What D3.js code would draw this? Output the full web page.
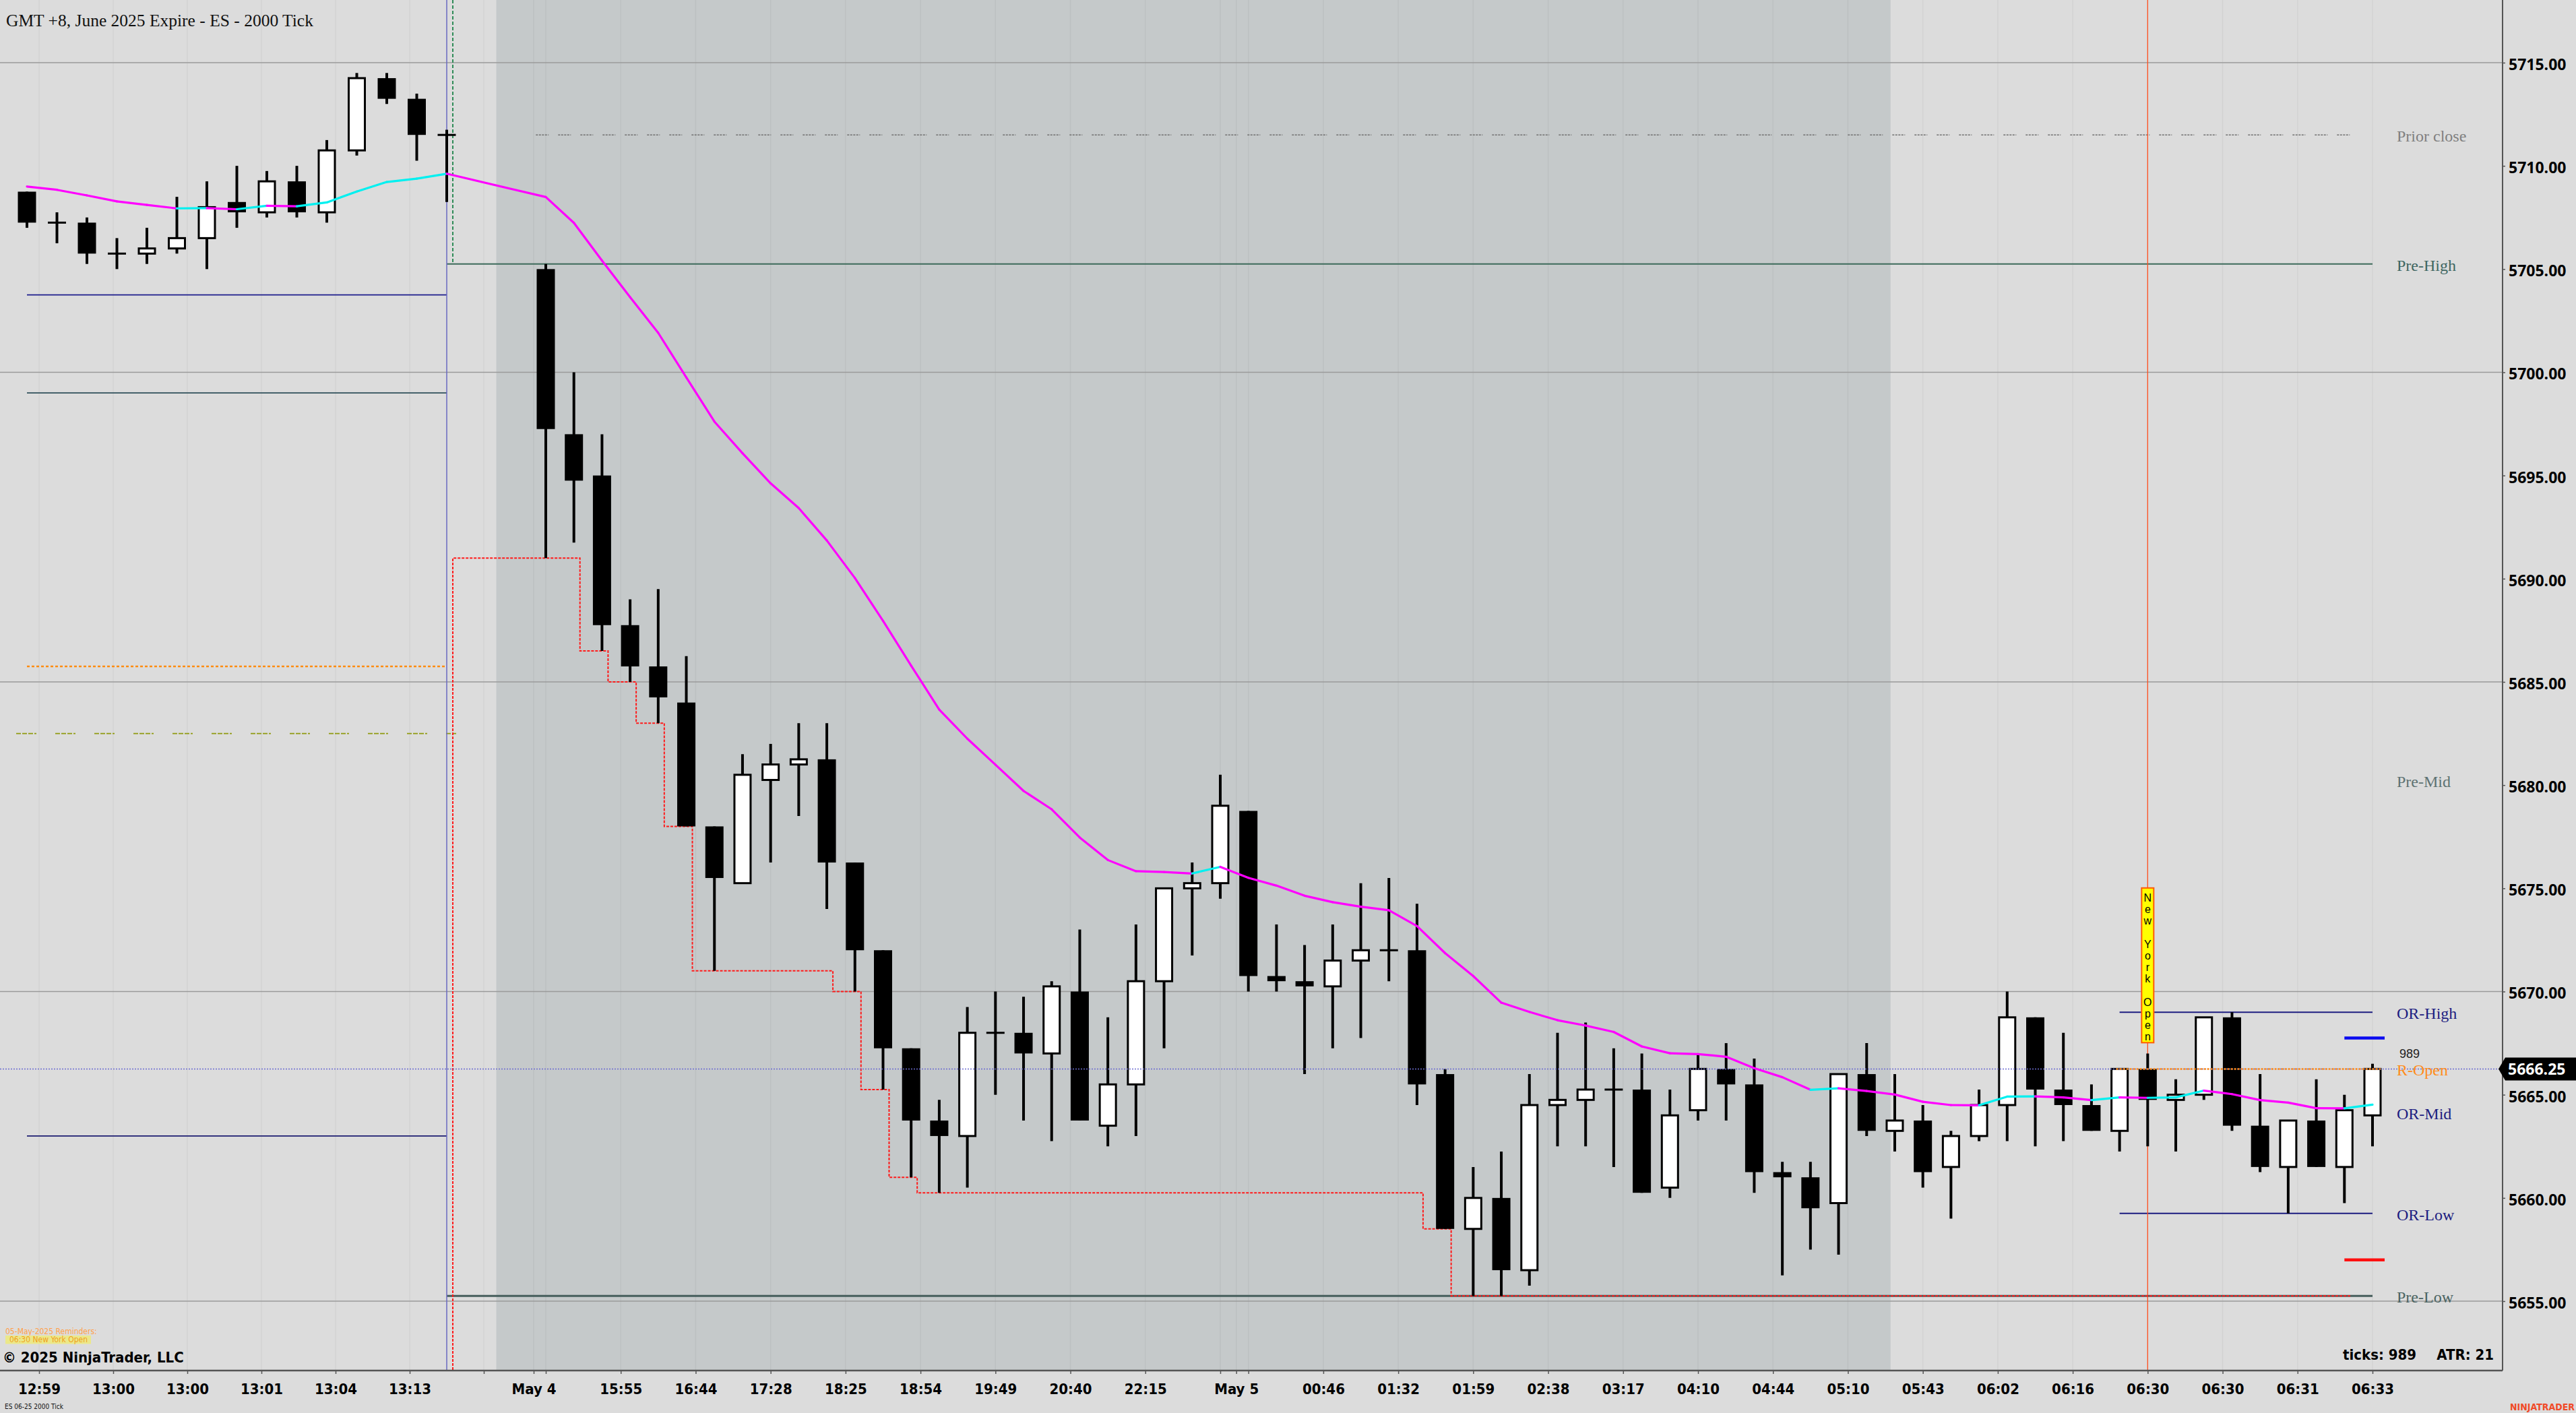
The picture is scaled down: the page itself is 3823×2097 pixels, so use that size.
<!DOCTYPE html>
<html>
<head>
<meta charset="utf-8">
<title>GMT +8, June 2025 Expire - ES - 2000 Tick</title>
<script src="https://d3js.org/d3.v7.min.js"></script>
<style>
  body { margin: 0; background: #dcdcdc; overflow: hidden; }
  svg { display: block; }
</style>
</head>
<body>
<div id="chart"></div>
<script>
// 2000 tick bars, oldest first. first 15 = prior session, then the May 4 / May 5 session
const opens = [
  5708.75, 5707.25, 5707.25, 5705.75, 5705.75, 5706.0, 5706.5, 5708.25, 5707.75, 5709.25, 5707.75, 5710.75, 5714.25, 5713.25, 5711.5,
  5705.0, 5697.0, 5695.0, 5687.75, 5685.75, 5684.0, 5678.0, 5675.25, 5680.25, 5681.0, 5681.25, 5676.25, 5672.0, 5667.25, 5663.75,
  5663.0, 5668.0, 5668.0, 5667.0, 5670.0, 5663.5, 5665.5, 5670.5, 5675.0, 5675.25, 5678.75, 5670.75, 5670.5, 5670.25, 5671.5,
  5672.0, 5672.0, 5666.0, 5658.5, 5660.0, 5656.5, 5664.5, 5664.75, 5665.25, 5665.25, 5660.5, 5664.25, 5666.25, 5665.5, 5661.25,
  5661.0, 5659.75, 5666.0, 5663.25, 5663.75, 5661.5, 5663.0, 5664.5, 5668.75, 5665.25, 5664.5, 5663.25, 5666.25, 5664.75, 5665.0,
  5668.75, 5663.5, 5661.5, 5663.75, 5661.5, 5664.0]
const highs = [
  5708.75, 5707.75, 5707.5, 5706.5, 5707.0, 5708.5, 5709.25, 5710.0, 5709.75, 5710.0, 5711.25, 5714.5, 5714.5, 5713.5, 5711.75,
  5705.25, 5700.0, 5697.0, 5689.0, 5689.5, 5686.25, 5678.0, 5681.5, 5682.0, 5683.0, 5683.0, 5676.25, 5672.0, 5667.25, 5664.75,
  5669.25, 5670.0, 5669.75, 5670.5, 5673.0, 5668.75, 5673.25, 5675.0, 5676.25, 5680.5, 5678.75, 5673.25, 5672.25, 5673.25, 5675.25,
  5675.5, 5674.25, 5666.25, 5661.5, 5662.25, 5666.0, 5668.0, 5668.5, 5667.25, 5667.0, 5665.25, 5667.0, 5667.5, 5666.75, 5661.75,
  5661.75, 5666.0, 5667.5, 5666.0, 5664.5, 5663.25, 5665.25, 5670.0, 5668.75, 5668.0, 5665.5, 5666.25, 5667.0, 5665.75, 5668.75,
  5669.0, 5666.0, 5663.75, 5665.75, 5665.0, 5666.5]
const lows = [
  5707.0, 5706.25, 5705.25, 5705.0, 5705.25, 5705.75, 5705.0, 5707.0, 5707.5, 5707.5, 5707.25, 5710.5, 5713.0, 5710.25, 5708.25,
  5691.0, 5691.75, 5686.5, 5685.0, 5683.0, 5678.0, 5671.0, 5675.25, 5676.25, 5678.5, 5674.0, 5670.0, 5665.25, 5661.0, 5660.25,
  5660.5, 5665.0, 5663.75, 5662.75, 5663.75, 5662.5, 5663.0, 5667.25, 5671.75, 5674.5, 5670.0, 5670.0, 5666.0, 5667.25, 5667.75,
  5670.5, 5664.5, 5658.5, 5655.25, 5655.25, 5655.75, 5662.5, 5662.5, 5661.5, 5660.25, 5660.0, 5663.75, 5663.75, 5660.25, 5656.25,
  5657.5, 5657.25, 5663.0, 5662.25, 5660.5, 5659.0, 5662.75, 5662.75, 5662.5, 5662.75, 5663.25, 5662.25, 5662.5, 5662.25, 5664.75,
  5663.25, 5661.25, 5659.25, 5661.5, 5659.75, 5662.5]
const closes = [
  5707.25, 5707.25, 5705.75, 5705.75, 5706.0, 5706.5, 5708.0, 5707.75, 5709.25, 5707.75, 5710.75, 5714.25, 5713.25, 5711.5, 5711.5,
  5697.25, 5694.75, 5687.75, 5685.75, 5684.25, 5678.0, 5675.5, 5680.5, 5681.0, 5681.25, 5676.25, 5672.0, 5667.25, 5663.75, 5663.0,
  5668.0, 5668.0, 5667.0, 5670.25, 5663.75, 5665.5, 5670.5, 5675.0, 5675.25, 5679.0, 5670.75, 5670.5, 5670.25, 5671.5, 5672.0,
  5672.0, 5665.5, 5658.5, 5660.0, 5656.5, 5664.5, 5664.75, 5665.25, 5665.25, 5660.25, 5664.0, 5666.25, 5665.5, 5661.25, 5661.0,
  5659.5, 5666.0, 5663.25, 5663.75, 5661.25, 5663.0, 5664.5, 5668.75, 5665.25, 5664.5, 5663.25, 5666.25, 5664.75, 5665.0, 5668.75,
  5663.5, 5661.5, 5663.75, 5661.5, 5664.25, 5666.25]

// moving average plot (magenta falling / cyan rising)
const emaValues = [
  5709.0, 5708.84, 5708.57, 5708.28, 5708.11, 5707.94, 5707.95, 5707.9, 5708.07, 5708.04, 5708.23, 5708.76, 5709.22, 5709.38, 5709.62,
  5708.49, 5707.24, 5705.41, 5703.64, 5701.91, 5699.75, 5697.61, 5696.08, 5694.62, 5693.42, 5691.85, 5690.03, 5687.96, 5685.79, 5683.66,
  5682.25, 5680.99, 5679.72, 5678.83, 5677.46, 5676.37, 5675.83, 5675.79, 5675.72, 5676.04, 5675.51, 5675.13, 5674.64, 5674.33, 5674.11,
  5673.94, 5673.17, 5671.86, 5670.75, 5669.46, 5669.01, 5668.61, 5668.35, 5668.04, 5667.34, 5667.01, 5666.97, 5666.84, 5666.29, 5665.85,
  5665.24, 5665.31, 5665.18, 5665.01, 5664.66, 5664.5, 5664.49, 5664.91, 5664.92, 5664.87, 5664.74, 5664.87, 5664.85, 5664.87, 5665.2,
  5665.03, 5664.74, 5664.62, 5664.35, 5664.34, 5664.52]

const tickLabelsPrior = ["12:59", "13:00", "13:00", "13:01", "13:04", "13:13", ""]
const tickLabelsMay4 = ["", "15:55", "16:44", "17:28", "18:25", "18:54", "19:49", "20:40", "22:15", ""]
const tickLabelsMay5 = ["", "00:46", "01:32", "01:59", "02:38", "03:17", "04:10", "04:44", "05:10", "05:43", "06:02", "06:16", "06:30", "06:30", "06:31", "06:33"]
const dateLabels = ["May 4", "May 5"]

const levelNames = ["Prior close", "Pre-High", "Pre-Mid", "OR-High", "R-Open", "OR-Mid", "OR-Low", "Pre-Low"]
const levelPrices = [5711.5, 5705.25, 5680.25, 5669.0, 5666.25, 5664.125, 5659.25, 5655.25]
// lines left over on the prior session
const priorLevelPrices = [5703.75, 5699.0, 5685.75, 5682.5, 5663.0]

const lastPrice = 5666.25
const ticksLeft = 989
const atrValue = 21
const projHigh = 5667.75
const projLow = 5657.0

// ---------------------------------------------------------------
const W = 3823, H = 2097
const plotW = 3714, plotH = 2034
const priorLast = 14, sessionStart = 15, may5Start = 40, nyOpenBar = 72
const lastBar = opens.length - 1

const condFont = "'DejaVu Sans Condensed', 'Liberation Sans Narrow', 'Roboto Condensed', 'DejaVu Sans', sans-serif"
const serifFont = "'Liberation Serif', 'DejaVu Serif', serif"

const x = d3.scaleLinear()
    .domain([0, priorLast, sessionStart, lastBar])
    .range([40, 663, 810, 3521])
const y = d3.scaleLinear().domain([5655, 5715]).range([1931, 93])

const svg = d3.select("#chart").append("svg")
    .attr("width", W).attr("height", H)

svg.append("rect").attr("width", W).attr("height", H).attr("fill", "#dcdcdc")
svg.append("defs").append("clipPath").attr("id", "clip")
    .append("rect").attr("width", plotW).attr("height", plotH)

const plot = svg.append("g").attr("clip-path", "url(#clip)")

// overnight session shading
plot.append("rect")
    .attr("x", x(priorLast + 0.5)).attr("y", 0)
    .attr("width", x(62.85) - x(priorLast + 0.5)).attr("height", plotH)
    .attr("fill", "#c5c9ca")

// x ticks: fixed spacing inside each day
const ticks = tickLabelsPrior.map((t, k) => ({ idx: x.invert(x(0) + 18 + 110 * k), label: t }))
;[[sessionStart, tickLabelsMay4], [may5Start, tickLabelsMay5]].forEach(([s, labels], n) => {
    ticks.push({ idx: x.invert(x(s) - 18), label: dateLabels[n] })
    labels.forEach((t, k) => ticks.push({ idx: s + k * 8 / 3, label: t }))
})

plot.selectAll(".vgrid").data(ticks).join("line")
    .attr("x1", d => x(d.idx)).attr("x2", d => x(d.idx))
    .attr("y1", 0).attr("y2", plotH)
    .attr("stroke", "#000").attr("stroke-opacity", 0.045).attr("stroke-width", 1.5)

plot.selectAll(".hgrid").data(d3.range(5655, 5716, 15)).join("line")
    .attr("x1", 0).attr("x2", plotW)
    .attr("y1", d => y(d)).attr("y2", d => y(d))
    .attr("stroke", "#9a9a9a").attr("stroke-width", 1.3)

// prior session levels
const priorStyles = [
    { c: "#1c1c8c", w: 1.8, dash: null },
    { c: "#2f4f5a", w: 1.8, dash: null },
    { c: "#ff8c10", w: 2.5, dash: "4,3" },
    { c: "#8f9a10", w: 1.8, dash: "7,2,7,2,7,2,3,28" },
    { c: "#1c1c70", w: 1.8, dash: null }
]
plot.selectAll(".plevel").data(priorLevelPrices).join("line")
    .attr("x1", (d, i) => i === 3 ? x(0) - 16 : x(0))
    .attr("x2", (d, i) => i === 3 ? x(priorLast) + 14 : x(priorLast))
    .attr("y1", d => y(d)).attr("y2", d => y(d))
    .attr("stroke", (d, i) => priorStyles[i].c)
    .attr("stroke-width", (d, i) => priorStyles[i].w)
    .attr("stroke-dasharray", (d, i) => priorStyles[i].dash)

// session levels
const lv = name => levelPrices[levelNames.indexOf(name)]
plot.append("line")
    .attr("x1", x(priorLast + 0.9)).attr("x2", x(lastBar - 0.7))
    .attr("y1", y(lv("Prior close"))).attr("y2", y(lv("Prior close")))
    .attr("stroke", "#707070").attr("stroke-width", 1.5)
    .attr("stroke-dasharray", "3,1.5,3,1.5,3,1.5,3,1.5,1,14")
plot.append("line")
    .attr("x1", x(priorLast)).attr("x2", x(lastBar))
    .attr("y1", y(lv("Pre-High"))).attr("y2", y(lv("Pre-High")))
    .attr("stroke", "#3c6a5a").attr("stroke-width", 2)
plot.append("line")
    .attr("x1", x(priorLast)).attr("x2", x(lastBar))
    .attr("y1", y(lv("Pre-Low"))).attr("y2", y(lv("Pre-Low")))
    .attr("stroke", "#465e5c").attr("stroke-width", 3)
;["OR-High", "OR-Low"].forEach(n => {
    plot.append("line")
        .attr("x1", x(nyOpenBar - 1)).attr("x2", x(lastBar))
        .attr("y1", y(lv(n))).attr("y2", y(lv(n)))
        .attr("stroke", "#1c1c80").attr("stroke-width", 2)
})

// verticals: session break, pre-high marker, New York open
plot.append("line")
    .attr("x1", x(priorLast)).attr("x2", x(priorLast)).attr("y1", 0).attr("y2", plotH)
    .attr("stroke", "#6a6ac0").attr("stroke-width", 1.5)
plot.append("line")
    .attr("x1", x(priorLast) + 9).attr("x2", x(priorLast) + 9).attr("y1", 0).attr("y2", y(lv("Pre-High")))
    .attr("stroke", "#2e8b57").attr("stroke-width", 2).attr("stroke-dasharray", "5,3")
plot.append("line")
    .attr("x1", x(nyOpenBar)).attr("x2", x(nyOpenBar)).attr("y1", 0).attr("y2", plotH)
    .attr("stroke", "#ff5020").attr("stroke-width", 1.3)

// running session low, drawn one bar late
const stepPts = [{ px: x(priorLast) + 9, py: plotH + 5 }]
let runLow = Infinity
for (let i = sessionStart; i <= lastBar; i++) {
    runLow = Math.min(runLow, lows[i])
    stepPts.push({ px: x(i - 1) + 9, py: y(runLow) })
}
plot.append("path")
    .attr("d", d3.line().x(d => d.px).y(d => d.py).curve(d3.curveStepAfter)(stepPts))
    .attr("fill", "none").attr("stroke", "#ff1a1a").attr("stroke-width", 2)
    .attr("stroke-dasharray", "4,2")

// candles
const bars = opens.map((o, i) => ({ i, o, h: highs[i], l: lows[i], c: closes[i] }))
const candle = plot.append("g").selectAll("g").data(bars).join("g")
candle.append("line")
    .attr("x1", d => x(d.i)).attr("x2", d => x(d.i))
    .attr("y1", d => y(d.h)).attr("y2", d => y(d.l))
    .attr("stroke", "#000").attr("stroke-width", 4)
candle.filter(d => d.c > d.o).append("rect")
    .attr("x", d => x(d.i) - 12).attr("width", 24)
    .attr("y", d => y(d.c)).attr("height", d => y(d.o) - y(d.c))
    .attr("fill", "#fff").attr("stroke", "#000").attr("stroke-width", 3)
candle.filter(d => d.c < d.o).append("rect")
    .attr("x", d => x(d.i) - 13.5).attr("width", 27)
    .attr("y", d => y(d.o)).attr("height", d => y(d.c) - y(d.o))
    .attr("fill", "#000")
candle.filter(d => d.c === d.o).append("line")
    .attr("x1", d => x(d.i) - 13.5).attr("x2", d => x(d.i) + 13.5)
    .attr("y1", d => y(d.o)).attr("y2", d => y(d.o))
    .attr("stroke", "#000").attr("stroke-width", 3)

// last price and R-Open dotted lines
plot.append("line")
    .attr("x1", 0).attr("x2", plotW).attr("y1", y(lastPrice)).attr("y2", y(lastPrice))
    .attr("stroke", "#6b6bd0").attr("stroke-width", 1.5).attr("stroke-dasharray", "2,2")
plot.append("line")
    .attr("x1", x(nyOpenBar - 1) - 5).attr("x2", x(lastBar) + 12)
    .attr("y1", y(lv("R-Open"))).attr("y2", y(lv("R-Open")))
    .attr("stroke", "#ff8c1a").attr("stroke-width", 2.5).attr("stroke-dasharray", "3,2")

// moving average, coloured by direction
const emaSegs = d3.pairs(emaValues.map((v, i) => ({ i, v })))
plot.append("g").selectAll("line").data(emaSegs).join("line")
    .attr("x1", d => x(d[0].i)).attr("y1", d => y(d[0].v))
    .attr("x2", d => x(d[1].i)).attr("y2", d => y(d[1].v))
    .attr("stroke", d => d[1].v > d[0].v ? "#00f0f0" : "#ff00ff")
    .attr("stroke-width", 3.2).attr("stroke-linecap", "round")

// projection markers
;[[projHigh, "#0a0af0"], [projLow, "#ff1010"]].forEach(([p, c]) => {
    plot.append("line")
        .attr("x1", x(lastBar - 1)).attr("x2", x(lastBar) + 18)
        .attr("y1", y(p)).attr("y2", y(p))
        .attr("stroke", c).attr("stroke-width", 4.5)
})

// New York Open marker
const nyLetters = "New York Open".split("")
const boxH = nyLetters.length * 17.2 + 6
const boxTop = y(highs[nyOpenBar]) - 16 - boxH
plot.append("rect")
    .attr("x", x(nyOpenBar) - 9).attr("y", boxTop).attr("width", 18).attr("height", boxH)
    .attr("fill", "#ffff00").attr("stroke", "#ff5a00").attr("stroke-width", 2)
plot.append("g").selectAll("text").data(nyLetters).join("text")
    .attr("x", x(nyOpenBar)).attr("y", (d, i) => boxTop + 14 + i * 17.2 + 6)
    .attr("text-anchor", "middle")
    .attr("font-family", "'Liberation Sans', Arial, sans-serif").attr("font-size", 16)
    .attr("fill", "#000").text(d => d)

// level labels on the right
const levelColors = ["#808080", "#3e6661", "#5d7272", "#1c1c80", "#ff8c1a", "#1c1c80", "#1c1c80", "#4a6462"]
svg.append("g").selectAll("text").data(levelNames).join("text")
    .attr("x", x(lastBar) + 36).attr("y", (d, i) => y(levelPrices[i]) + 10)
    .attr("font-family", serifFont).attr("font-size", 24)
    .attr("fill", (d, i) => levelColors[i]).text(d => d)
svg.append("text")
    .attr("x", x(lastBar) + 40).attr("y", y(lastPrice) - 16)
    .attr("font-family", "'Liberation Sans', Arial, sans-serif").attr("font-size", 18)
    .attr("fill", "#222").text(ticksLeft)

// title
svg.append("text")
    .attr("x", 9).attr("y", 39)
    .attr("font-family", serifFont).attr("font-size", 25.5).attr("fill", "#111")
    .text("GMT +8, June 2025 Expire - ES - 2000 Tick")

// axes frame
svg.append("line").attr("x1", 0).attr("x2", plotW).attr("y1", plotH).attr("y2", plotH)
    .attr("stroke", "#555").attr("stroke-width", 2.5)
svg.append("line").attr("x1", plotW).attr("x2", plotW).attr("y1", 0).attr("y2", plotH)
    .attr("stroke", "#555").attr("stroke-width", 2)

// x axis
const labelOf = new Map(ticks.map(t => [t.idx, t.label]))
svg.append("g").attr("transform", `translate(0,${plotH})`)
    .call(d3.axisBottom(x).tickValues(ticks.map(t => t.idx)).tickSize(5).tickFormat(d => labelOf.get(d)))
    .call(g => g.select(".domain").remove())
    .call(g => g.selectAll(".tick line").attr("stroke", "#555").attr("stroke-width", 1.5))
    .call(g => g.selectAll(".tick text")
        .attr("y", 35).attr("dy", 0)
        .attr("font-family", condFont).attr("font-stretch", "condensed")
        .attr("font-weight", 700).attr("font-size", 22).attr("fill", "#000"))

// y axis
svg.append("g").attr("transform", `translate(${plotW},0)`)
    .call(d3.axisRight(y).tickValues(d3.range(5655, 5716, 5)).tickSize(4).tickPadding(5)
        .tickFormat(d3.format(".2f")))
    .call(g => g.select(".domain").remove())
    .call(g => g.selectAll(".tick line").attr("stroke", "#555").attr("stroke-width", 1.5))
    .call(g => g.selectAll(".tick text")
        .attr("dy", "0.45em")
        .attr("font-family", "'Open Sans', 'Liberation Sans', sans-serif")
        .attr("font-weight", 700).attr("font-size", 23).attr("fill", "#000"))

// last price box
const yp = y(lastPrice)
svg.append("path")
    .attr("d", `M${plotW - 6},${yp} L${plotW + 4},${yp - 17} L${W},${yp - 17} L${W},${yp + 17} L${plotW + 4},${yp + 17} Z`)
    .attr("fill", "#000")
svg.append("text")
    .attr("x", plotW + 8).attr("y", yp + 8.5)
    .attr("font-family", "'Open Sans', 'Liberation Sans', sans-serif")
    .attr("font-weight", 700).attr("font-size", 23).attr("fill", "#fff")
    .text(d3.format(".2f")(lastPrice))

// footer texts
svg.append("text").attr("x", 8).attr("y", 1980)
    .attr("font-family", condFont).attr("font-stretch", "condensed").attr("font-size", 12)
    .attr("fill", "#ffa04a").text("05-May-2025 Reminders:")
svg.append("rect").attr("x", 8).attr("y", 1982).attr("width", 127).attr("height", 12.5).attr("fill", "#ebe88a")
svg.append("text").attr("x", 14).attr("y", 1992)
    .attr("font-family", condFont).attr("font-stretch", "condensed").attr("font-size", 12)
    .attr("fill", "#f0a020").text("06:30 New York Open")
svg.append("text").attr("x", 4).attr("y", 2022)
    .attr("font-family", condFont).attr("font-stretch", "condensed")
    .attr("font-weight", 700).attr("font-size", 22).attr("fill", "#000")
    .text("© 2025 NinjaTrader, LLC")
svg.append("text").attr("x", 3477).attr("y", 2018)
    .attr("font-family", condFont).attr("font-stretch", "condensed")
    .attr("font-weight", 700).attr("font-size", 22).attr("fill", "#000")
    .text("ticks: " + ticksLeft)
svg.append("text").attr("x", 3701).attr("y", 2018).attr("text-anchor", "end")
    .attr("font-family", condFont).attr("font-stretch", "condensed")
    .attr("font-weight", 700).attr("font-size", 22).attr("fill", "#000")
    .text("ATR: " + atrValue)
svg.append("text").attr("x", 7).attr("y", 2091)
    .attr("font-family", condFont).attr("font-stretch", "condensed").attr("font-size", 10)
    .attr("fill", "#111").text("ES 06-25 2000 Tick")
svg.append("text").attr("x", 3821).attr("y", 2093).attr("text-anchor", "end")
    .attr("font-family", condFont).attr("font-stretch", "condensed")
    .attr("font-weight", 700).attr("font-size", 14).attr("fill", "#f04a28")
    .text("NINJATRADER")
</script>
</body>
</html>
